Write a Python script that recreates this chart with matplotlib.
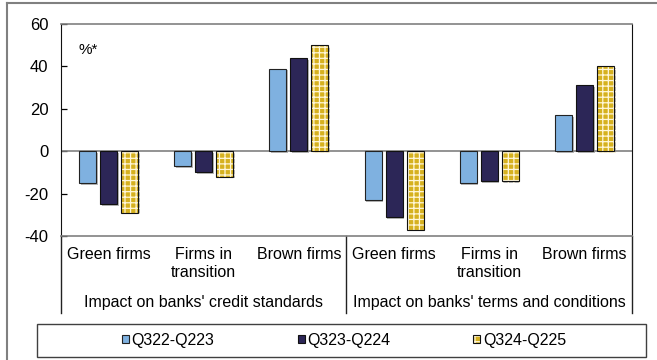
import numpy as np
import matplotlib
matplotlib.use("Agg")
import matplotlib.pyplot as plt
from matplotlib.patches import Patch, Rectangle
from matplotlib.lines import Line2D
import matplotlib.patheffects as pe

plt.rcParams['font.family'] = ['Liberation Sans', 'DejaVu Sans']
plt.rcParams['font.size'] = 11.5
plt.rcParams['axes.unicode_minus'] = False
plt.rcParams['hatch.linewidth'] = 0.9

#-----------------------
#        Data
#-----------------------
categories = ['Green firms', 'Firms in\ntransition', 'Brown firms',
              'Green firms', 'Firms in\ntransition', 'Brown firms']
groups = ["Impact on banks' credit standards", "Impact on banks' terms and conditions"]
series = ['Q322-Q223', 'Q323-Q224', 'Q324-Q225']
q322_q223 = [-15, -7, 39, -23, -15, 17]
q323_q224 = [-25, -10, 44, -31, -14, 31]
q324_q225 = [-29, -12, 50, -37, -14, 40]
yticks = [-40, -20, 0, 20, 40, 60]

c_light = '#7fb1e0'
c_navy = '#2c2657'
c_gold = '#d6b11f'

fig = plt.figure(figsize=(6.57, 3.6), dpi=100)
ax = fig.add_axes([61/657, 1-236/360, (632-61)/657, (236-24)/360])

x = np.arange(len(categories))
w = 17/95.2
step = 21/95.2
shadow = [pe.SimplePatchShadow(offset=(1.2, -1.2), shadow_rgbFace='#888888', alpha=0.6), pe.Normal()]

ax.bar(x - step, q322_q223, w, color=c_light, edgecolor='#222222', linewidth=0.8,
       path_effects=shadow, zorder=3)
ax.bar(x, q323_q224, w, color=c_navy, edgecolor='#111111', linewidth=0.8,
       path_effects=shadow, zorder=3)
# gold bars: white hatch on gold, then a dark outline on top
ax.bar(x + step, q324_q225, w, color=c_gold, edgecolor='#fff6d8', hatch='+++',
       linewidth=0, path_effects=shadow, zorder=3)
ax.bar(x + step, q324_q225, w, fill=False, edgecolor='#111111', linewidth=0.8, zorder=4)

ax.set_xlim(-0.5, len(categories) - 0.5)
ax.set_ylim(-40, 60)
ax.set_yticks(yticks)
ax.set_xticks([])
ax.tick_params(axis='y', direction='in', length=4, width=0.9, pad=9, labelsize=12)
ax.axhline(0, color='#808080', linewidth=1.2, zorder=2)

for s in ['top', 'bottom']:
    ax.spines[s].set_color('#808080')
    ax.spines[s].set_linewidth(1.2)
ax.spines['left'].set_color('#111111')
ax.spines['right'].set_color('#111111')

ax.text(0.03, 0.86, '%*', transform=ax.transAxes, fontsize=11)

# category and group labels below the axis
trans = ax.get_xaxis_transform()
for xi, lab in zip(x, categories):
    ax.text(xi, -0.05, lab, transform=trans, ha='center', va='top',
            linespacing=1.25)
for gi, lab in enumerate(groups):
    ax.text(gi*3 + 1, -0.316, lab, transform=trans, ha='center', va='center')
for xs in [-0.5, 2.5, 5.5]:
    ax.plot([xs, xs], [0, -0.363], transform=trans, color='#222222',
            linewidth=1.0, clip_on=False)

# legend with its own frame
handles = [Patch(facecolor=c_light, edgecolor='#222222', linewidth=0.8),
           Patch(facecolor=c_navy, edgecolor='#111111', linewidth=0.8),
           (Patch(facecolor=c_gold, edgecolor='#fff6d8', hatch='+++', linewidth=0),
            Patch(fill=False, edgecolor='#111111', linewidth=0.8))]
fig.legend(handles, series, ncol=3, loc='center', bbox_to_anchor=(344/657, 1-340/360),
           frameon=False, handlelength=0.45, handleheight=0.45, handletextpad=0.15,
           columnspacing=5.2)
fig.add_artist(Rectangle((37/657, 1-357/360), (646-37)/657, 33/360,
                         transform=fig.transFigure, fill=False,
                         edgecolor='#404040', linewidth=1.0))

# outer frame (left and top edges)
fig.add_artist(Line2D([7/657, 7/657], [0, 1-3/360], transform=fig.transFigure,
                      color='#808080', linewidth=1.5))
fig.add_artist(Line2D([7/657, 1], [1-3/360, 1-3/360], transform=fig.transFigure,
                      color='#808080', linewidth=1.5))

fig.savefig('out.png', dpi=100)
